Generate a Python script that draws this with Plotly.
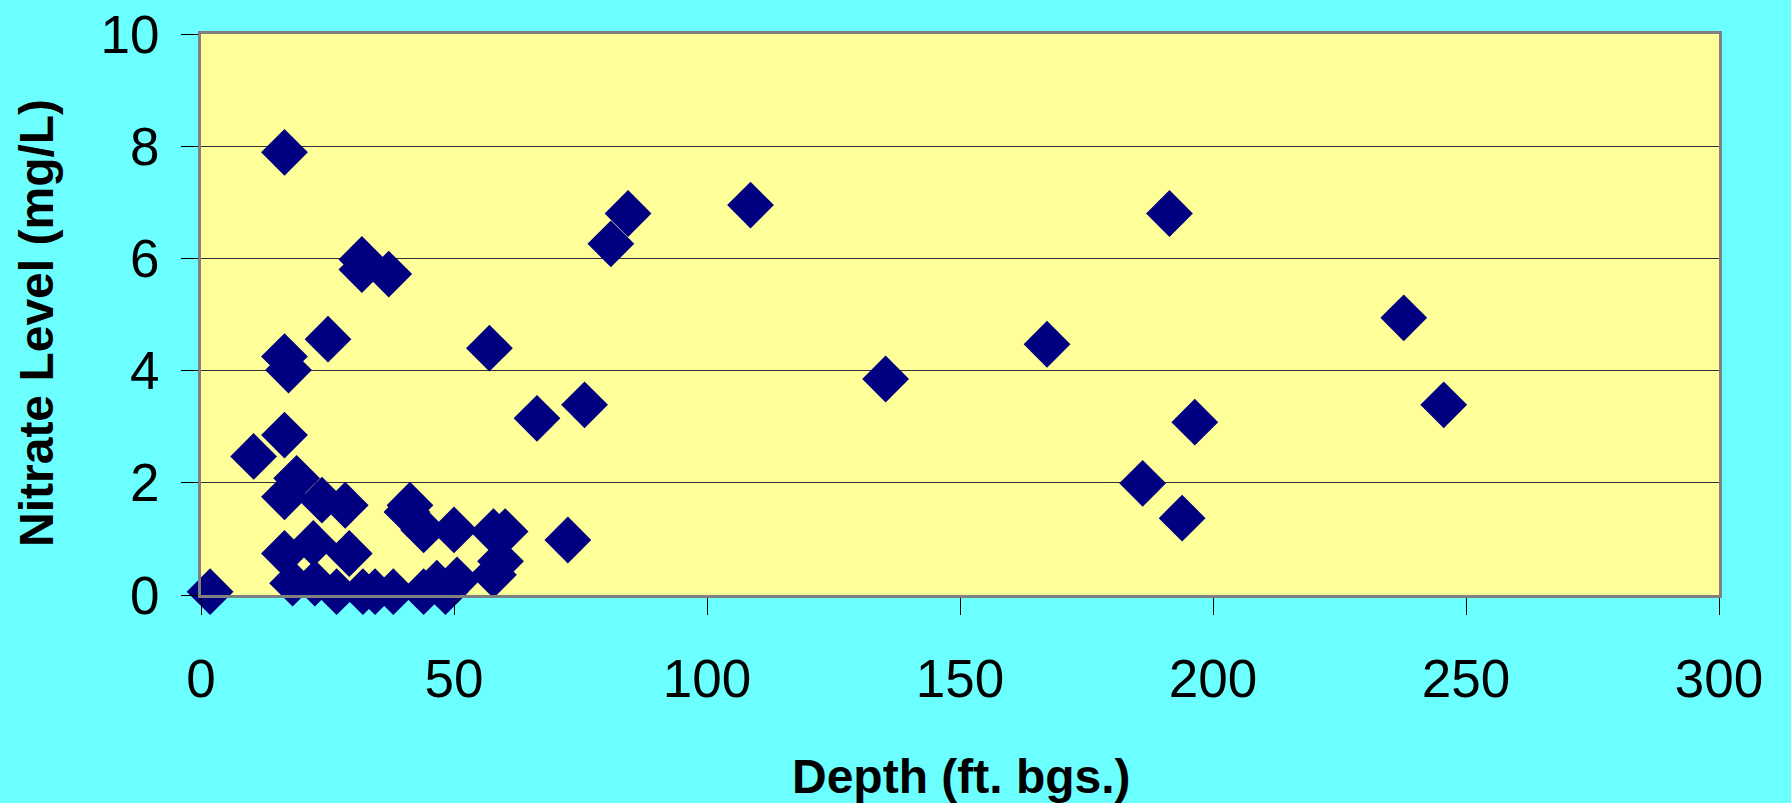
import plotly.graph_objects as go

depth_ft = [1.8, 10.4, 16.5, 16.5, 17.3, 16.5, 18.9, 16.5, 23.9, 28.5,
            25.1, 31.8, 31.8, 37.1, 57.0, 66.4, 75.8, 81.0, 84.4, 108.6,
            135.3, 167.2, 186.1, 191.4, 196.4, 193.9, 237.7, 245.6, 72.5, 41.3,
            40.7, 44.0, 50.0, 57.8, 60.1, 16.5, 22.2, 29.3, 59.2, 57.8,
            18.1, 22.5, 26.8, 32.0, 34.4, 38.0, 44.0, 46.6, 48.3, 50.6]
nitrate_mg_l = [0.06, 2.47, 7.89, 4.25, 4.01, 2.85, 2.08, 1.75, 1.69, 1.60,
                4.56, 5.98, 5.80, 5.72, 4.40, 3.15, 3.39, 6.26, 6.80, 6.95,
                3.85, 4.47, 1.99, 6.80, 3.08, 1.37, 4.94, 3.39, 0.98, 1.60,
                1.48, 1.16, 1.16, 1.13, 1.13, 0.74, 0.92, 0.74, 0.60, 0.36,
                0.21, 0.21, 0.06, 0.06, 0.06, 0.06, 0.06, 0.21, 0.06, 0.27]

x_ticks = [0, 50, 100, 150, 200, 250, 300]
y_ticks = [0, 2, 4, 6, 8, 10]
x_title = "Depth (ft. bgs.)"
y_title = "Nitrate Level (mg/L)"

font_family = "Liberation Sans, Arial, sans-serif"

fig = go.Figure()
fig.add_trace(go.Scatter(
    x=depth_ft, y=nitrate_mg_l, mode="markers",
    marker=dict(symbol="diamond", size=36, color="#000080",
                line=dict(width=0)),
    cliponaxis=False, showlegend=False,
))

fig.update_layout(
    width=1791, height=803,
    margin=dict(l=201, r=72, t=34, b=208, autoexpand=False),
    paper_bgcolor="#6BFFFF",
    plot_bgcolor="#FFFF99",
    font=dict(family=font_family, color="black"),
    xaxis=dict(
        range=[0, 300], tickvals=x_ticks, ticktext=[str(v) for v in x_ticks],
        showgrid=False, zeroline=False, automargin=False,
        showline=True, linecolor="#808080", linewidth=3, mirror=True,
        ticks="outside", ticklen=17, tickcolor="black", tickwidth=1,
        tickfont=dict(size=53, family=font_family, color="black"),
        ticklabelstandoff=18,
    ),
    yaxis=dict(
        range=[0, 10], tickvals=y_ticks, ticktext=[str(v) for v in y_ticks],
        showgrid=True, gridcolor="#333333", gridwidth=1, zeroline=False,
        automargin=False,
        showline=True, linecolor="#808080", linewidth=3, mirror=True,
        ticks="outside", ticklen=17, tickcolor="black", tickwidth=1,
        tickfont=dict(size=53, family=font_family, color="black"),
        ticklabelstandoff=11,
    ),
    annotations=[
        dict(text="<b>" + x_title + "</b>", xref="paper", yref="paper",
             x=0.501, y=-0.324, xanchor="center", yanchor="middle",
             showarrow=False, font=dict(size=48, family=font_family, color="black")),
        dict(text="<b>" + y_title + "</b>", xref="paper", yref="paper",
             x=-0.108, y=0.485, xanchor="center", yanchor="middle", textangle=-90,
             showarrow=False, font=dict(size=48, family=font_family, color="black")),
    ],
)

fig.write_html("out.html")
